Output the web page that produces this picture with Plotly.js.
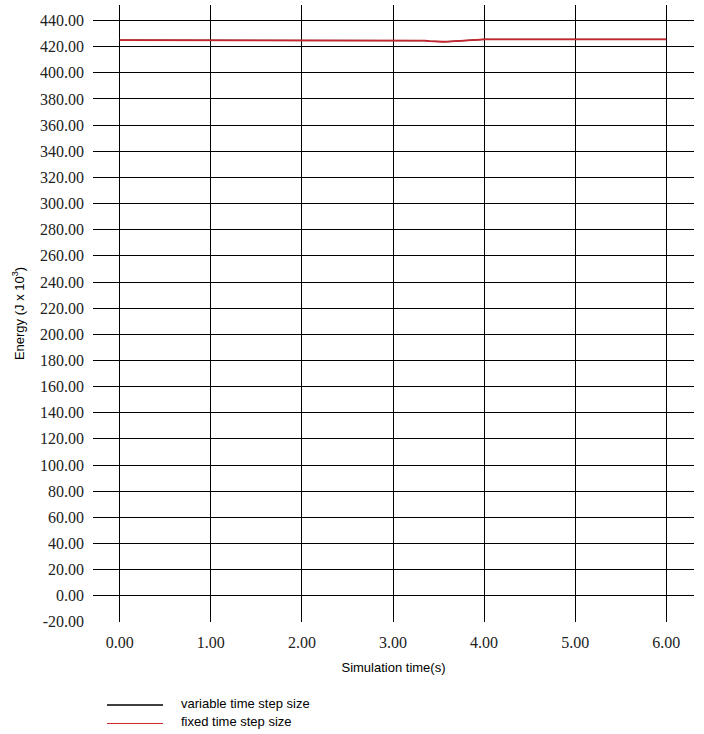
<!DOCTYPE html>
<html>
<head>
<meta charset="utf-8">
<script src="https://cdn.plot.ly/plotly-3.0.1.min.js"></script>
<style>html,body{margin:0;padding:0;background:#fff;}#chart{width:704px;height:734px;}</style>
</head>
<body>
<div id="chart"></div>
<script>
// Simulation time (s)
const timeS = [0, 0.5, 1, 1.5, 2, 2.5, 3, 3.2, 3.25, 3.3, 3.35, 3.4, 3.45, 3.5, 3.55, 3.6, 3.65, 3.7, 3.75, 3.8, 3.85, 3.9, 3.95, 4.0, 4.5, 5, 5.5, 6];
// Energy (J x 10^3)
const variableStep = [425.1, 425.1, 425.1, 425.1, 425.1, 425.1, 425.1, 425.1, 425.05, 424.9, 424.6, 424.25, 423.95, 423.8, 423.8, 423.9, 424.1, 424.4, 424.7, 425.0, 425.25, 425.45, 425.55, 425.6, 425.6, 425.6, 425.6, 425.6];
const fixedStep    = [425.1, 425.1, 425.1, 425.1, 425.1, 425.1, 425.1, 425.1, 425.05, 424.9, 424.6, 424.25, 423.95, 423.8, 423.8, 423.9, 424.1, 424.4, 424.7, 425.0, 425.25, 425.45, 425.55, 425.6, 425.6, 425.6, 425.6, 425.6];
const seriesNames = ["variable time step size", "fixed time step size"];
const seriesColors = ["#000000", "#c8262e"];
// tick values and labels
const xTickVals = [0, 1, 2, 3, 4, 5, 6];
const xTickText = ["0.00", "1.00", "2.00", "3.00", "4.00", "5.00", "6.00"];
const yTickVals = [-20, 0, 20, 40, 60, 80, 100, 120, 140, 160, 180, 200, 220, 240, 260, 280, 300, 320, 340, 360, 380, 400, 420, 440];
const yTickText = ["-20.00", "0.00", "20.00", "40.00", "60.00", "80.00", "100.00", "120.00", "140.00", "160.00", "180.00", "200.00", "220.00", "240.00", "260.00", "280.00", "300.00", "320.00", "340.00", "360.00", "380.00", "400.00", "420.00", "440.00"];

const traces = [
  {x: timeS, y: variableStep, name: seriesNames[0], type: "scatter", mode: "lines",
   line: {color: seriesColors[0], width: 1.2}, showlegend: false},
  {x: timeS, y: fixedStep, name: seriesNames[1], type: "scatter", mode: "lines",
   line: {color: seriesColors[1], width: 1.8}, showlegend: false}
];

const serif = "Liberation Serif";
const sans = "Liberation Sans";

// manual legend (layout decoration)
const legendShapes = [
  {type: "line", xref: "paper", yref: "paper", x0: 0.0233, x1: 0.1165, y0: -0.1345, y1: -0.1345, line: {color: seriesColors[0], width: 1.6}},
  {type: "line", xref: "paper", yref: "paper", x0: 0.0233, x1: 0.1165, y0: -0.1645, y1: -0.1645, line: {color: seriesColors[1], width: 1}}
];
const legendAnn = seriesNames.map((n, i) => ({
  text: n, xref: "paper", yref: "paper", x: 0.143, y: i === 0 ? -0.1315 : -0.161,
  xanchor: "left", yanchor: "middle", showarrow: false,
  font: {family: sans, size: 13, color: "#000"}
}));

const layout = {
  width: 704, height: 734,
  margin: {l: 93, r: 10, t: 5, b: 112},
  paper_bgcolor: "#fff", plot_bgcolor: "#fff",
  showlegend: false,
  xaxis: {
    range: [-0.293, 6.304], tickmode: "array", tickvals: xTickVals, ticktext: xTickText,
    showgrid: true, gridcolor: "#000", gridwidth: 1, zeroline: false,
    showline: false, ticks: "", ticklabelstandoff: 9,
    tickfont: {family: serif, size: 16, color: "#222"},
    title: {text: "Simulation time(s)", standoff: 12,
      font: {family: sans, size: 13, color: "#000"}}
  },
  yaxis: {
    range: [-20.1, 451.9], tickmode: "array", tickvals: yTickVals, ticktext: yTickText,
    showgrid: true, gridcolor: "#000", gridwidth: 1, zeroline: false,
    showline: false, ticks: "", ticklabelstandoff: 8,
    tickfont: {family: serif, size: 16, color: "#222"},
    title: {text: "Energy (J x 10<sup>3</sup>)", standoff: 12,
      font: {family: sans, size: 13, color: "#000"}}
  },
  shapes: legendShapes,
  annotations: legendAnn
};

Plotly.newPlot("chart", traces, layout, {displayModeBar: false, staticPlot: true});
</script>
</body>
</html>
